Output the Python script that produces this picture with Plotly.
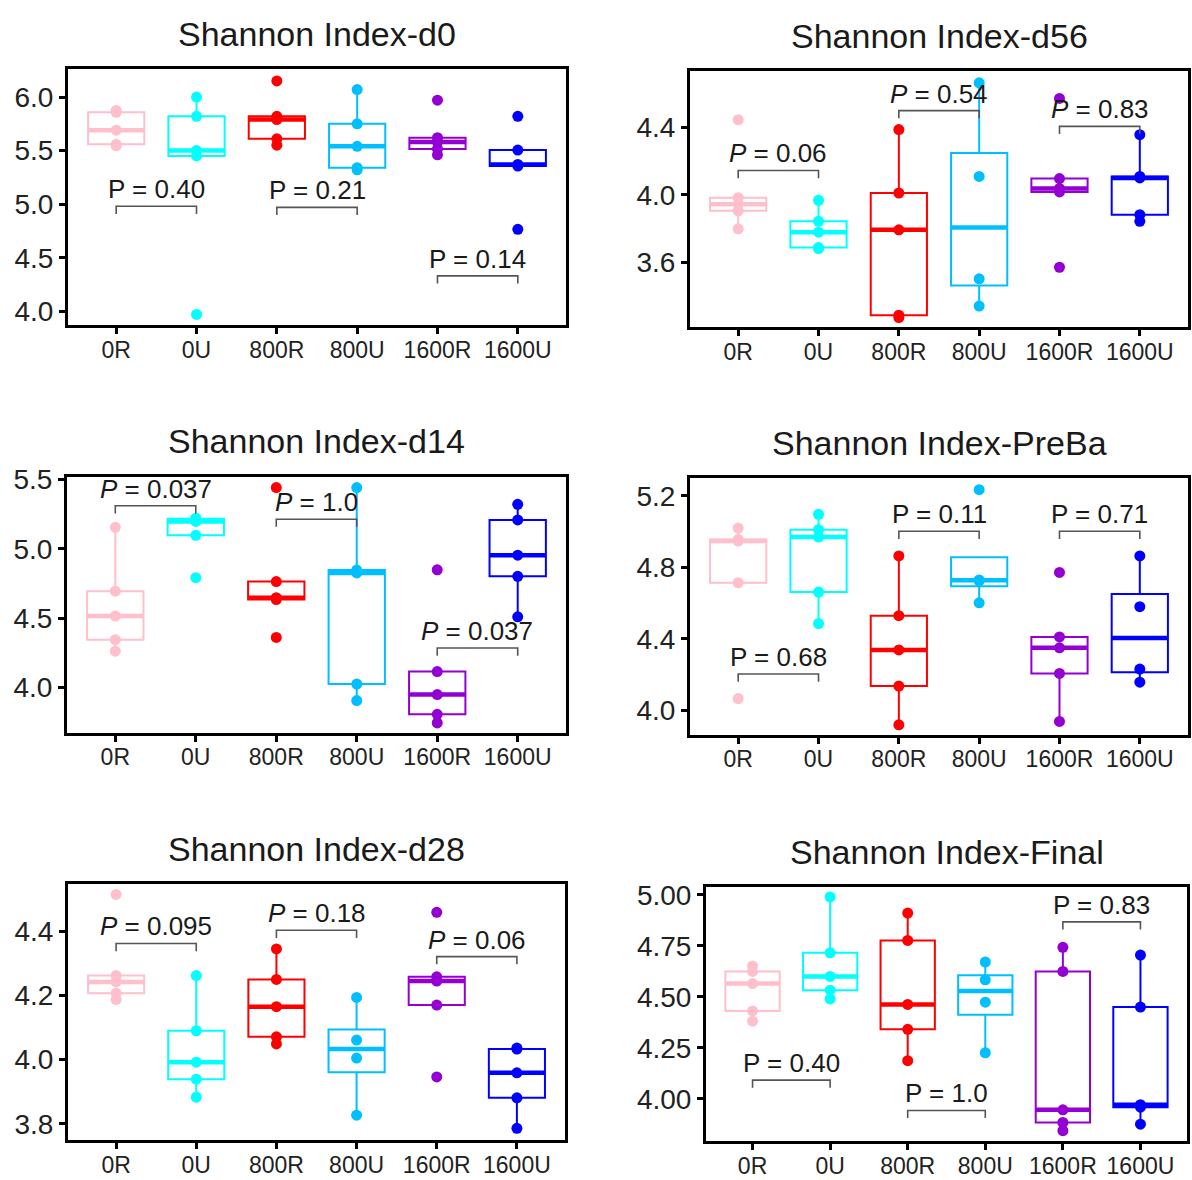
import numpy as np
import plotly.graph_objects as go

# ---------------- data ----------------
categories = ["0R", "0U", "800R", "800U", "1600R", "1600U"]
colors = ["#FFC0CB", "#00FFFF", "#FF0000", "#00BFFF", "#9400D3", "#0000FF"]

titles = ["Shannon Index-d0", "Shannon Index-d56", "Shannon Index-d14",
          "Shannon Index-PreBa", "Shannon Index-d28", "Shannon Index-Final"]

d0_vals = [
    [5.545, 5.558, 5.69, 5.857, 5.875],
    [3.97, 5.45, 5.50, 5.82, 6.00],
    [5.55, 5.61, 5.79, 5.82, 6.15],
    [5.32, 5.34, 5.54, 5.75, 6.07],
    [5.46, 5.515, 5.58, 5.62, 5.97],
    [4.765, 5.355, 5.37, 5.505, 5.82],
]
d56_vals = [
    [3.80, 3.906, 3.945, 3.983, 4.443],
    [3.683, 3.689, 3.78, 3.844, 3.968],
    [3.276, 3.29, 3.794, 4.011, 4.385],
    [3.344, 3.505, 4.109, 4.661],
    [3.573, 4.017, 4.038, 4.096, 4.569],
    [3.844, 3.883, 4.10, 4.109, 4.355],
]
d14_vals = [
    [4.261, 4.344, 4.514, 4.694, 5.154],
    [4.791, 5.097, 5.197, 5.216, 5.22],
    [4.36, 4.633, 4.647, 4.763, 5.441],
    [3.905, 4.024, 4.825, 4.846, 5.441],
    [3.744, 3.806, 3.948, 4.114, 4.848],
    [4.509, 4.801, 4.953, 5.208, 5.32],
]
preba_vals = [
    [4.066, 4.714, 4.947, 4.956, 5.02],
    [4.486, 4.662, 4.97, 5.011, 5.097],
    [3.919, 4.136, 4.338, 4.53, 4.864],
    [4.602, 4.725, 4.730, 5.235],
    [3.938, 4.207, 4.35, 4.411, 4.772],
    [4.158, 4.231, 4.58, 4.864],
]
d28_vals = [
    [4.187, 4.207, 4.242, 4.262, 4.515],
    [3.883, 3.939, 3.992, 4.09, 4.262],
    [4.049, 4.071, 4.165, 4.25, 4.345],
    [3.827, 4.005, 4.061, 4.194],
    [3.946, 4.17, 4.245, 4.258, 4.459],
    [3.786, 3.881, 3.959, 4.033, 4.036],
]
final_vals = [
    [4.381, 4.431, 4.565, 4.625, 4.652],
    [4.49, 4.533, 4.60, 4.716, 4.99],
    [4.187, 4.341, 4.463, 4.777, 4.911],
    [4.226, 4.474, 4.584, 4.671],
    [3.844, 3.884, 3.946, 4.625, 4.743],
    [3.876, 3.959, 3.971, 4.45, 4.705],
]

d0_p = ["P = 0.40", "P = 0.21", "P = 0.14"]
d56_p = ["<i>P</i> = 0.06", "<i>P</i> = 0.54", "<i>P</i> = 0.83"]
d14_p = ["<i>P</i> = 0.037", "<i>P</i> = 1.0", "<i>P</i> = 0.037"]
preba_p = ["P = 0.68", "P = 0.11", "P = 0.71"]
d28_p = ["<i>P</i> = 0.095", "<i>P</i> = 0.18", "<i>P</i> = 0.06"]
final_p = ["P = 0.40", "P = 1.0", "P = 0.83"]

d0_py = [4.98, 4.97, 4.33]
d56_py = [4.144, 4.497, 4.404]
d14_py = [5.31, 5.213, 4.284]
preba_py = [4.204, 5.002, 5.002]
d28_py = [4.362, 4.403, 4.321]
final_py = [4.092, 3.943, 4.868]

d0_ticks = [4.0, 4.5, 5.0, 5.5, 6.0]
d56_ticks = [3.6, 4.0, 4.4]
d14_ticks = [4.0, 4.5, 5.0, 5.5]
preba_ticks = [4.0, 4.4, 4.8, 5.2]
d28_ticks = [3.8, 4.0, 4.2, 4.4]
final_ticks = [4.00, 4.25, 4.50, 4.75, 5.00]

# ---------------- layout config ----------------
W, H = 1192, 1180
FONT = "Liberation Sans, Arial, sans-serif"

panels = [
    dict(vals=d0_vals, p=d0_p, py=d0_py, ticks=d0_ticks, fmt=".1f",
         yr=[3.872, 6.259], box=(68, 566, 57, 316), ty=21),
    dict(vals=d56_vals, p=d56_p, py=d56_py, ticks=d56_ticks, fmt=".1f",
         yr=[3.218, 4.729], box=(690, 1188, 59, 318.5), ty=23),
    dict(vals=d14_vals, p=d14_p, py=d14_py, ticks=d14_ticks, fmt=".1f",
         yr=[3.673, 5.517], box=(67, 566, 470, 729), ty=434),
    dict(vals=preba_vals, p=preba_p, py=preba_py, ticks=preba_ticks, fmt=".1f",
         yr=[3.864, 5.30], box=(690, 1188, 471, 731), ty=436),
    dict(vals=d28_vals, p=d28_p, py=d28_py, ticks=d28_ticks, fmt=".1f",
         yr=[3.748, 4.548], box=(68, 565, 882, 1142), ty=847),
    dict(vals=final_vals, p=final_p, py=final_py, ticks=final_ticks, fmt=".2f",
         yr=[3.791, 5.04], box=(706, 1187, 885, 1143), ty=850),
]

fig = go.Figure()
annotations = []
layout_axes = {}
BOXW = 0.7

for k, pn in enumerate(panels):
    xa = "x" if k == 0 else f"x{k + 1}"
    ya = "y" if k == 0 else f"y{k + 1}"
    xkey = "xaxis" if k == 0 else f"xaxis{k + 1}"
    ykey = "yaxis" if k == 0 else f"yaxis{k + 1}"
    yr = pn["yr"]

    # boxes
    meds = []
    for i, vals in enumerate(pn["vals"]):
        v = np.array(vals)
        q1, med, q3 = np.percentile(v, [25, 50, 75])
        iqr = q3 - q1
        lo = v[v >= q1 - 1.5 * iqr].min()
        hi = v[v <= q3 + 1.5 * iqr].max()
        meds.append(med)
        fig.add_trace(go.Box(
            x=[i + 1], q1=[q1], median=[med], q3=[q3],
            lowerfence=[min(lo, q1)], upperfence=[max(hi, q3)],
            width=BOXW, whiskerwidth=0, fillcolor="white",
            line=dict(color=colors[i], width=2), boxpoints=False,
            xaxis=xa, yaxis=ya, showlegend=False, hoverinfo="skip"))
    # thick median lines
    for i, med in enumerate(meds):
        fig.add_trace(go.Scatter(
            x=[i + 1 - BOXW / 2, i + 1 + BOXW / 2], y=[med, med], mode="lines",
            line=dict(color=colors[i], width=4.5), xaxis=xa, yaxis=ya,
            showlegend=False, hoverinfo="skip"))
    # points
    for i, vals in enumerate(pn["vals"]):
        fig.add_trace(go.Scatter(
            x=[i + 1] * len(vals), y=vals, mode="markers",
            marker=dict(color=colors[i], size=11, line=dict(width=0)),
            xaxis=xa, yaxis=ya, showlegend=False, hoverinfo="skip"))
    # p-value brackets
    tip = 0.03 * (yr[1] - yr[0])
    for j, (lab, py) in enumerate(zip(pn["p"], pn["py"])):
        a, b = 2 * j + 1, 2 * j + 2
        fig.add_trace(go.Scatter(
            x=[a, a, b, b], y=[py - tip, py, py, py - tip], mode="lines",
            line=dict(color="#555555", width=1.6), xaxis=xa, yaxis=ya,
            showlegend=False, hoverinfo="skip"))
        annotations.append(dict(
            x=(a + b) / 2, y=py, xref=xa, yref=ya, text=lab, showarrow=False,
            yanchor="bottom", xanchor="center", yshift=0,
            font=dict(family=FONT, size=26, color="#1a1a1a")))

    l, r, t, btm = pn["box"]
    layout_axes[xkey] = dict(
        domain=[l / W, r / W], range=[0.4, 6.6], anchor=ya,
        tickvals=list(range(1, 7)), ticktext=categories,
        showline=True, mirror=True, linecolor="black", linewidth=3,
        ticks="outside", ticklen=6, tickwidth=3, tickcolor="black",
        ticklabelstandoff=-4,
        showgrid=False, zeroline=False,
        tickfont=dict(family=FONT, size=23, color="#222222"))
    layout_axes[ykey] = dict(
        domain=[1 - btm / H, 1 - t / H], range=yr, anchor=xa,
        tickvals=pn["ticks"], tickformat=pn["fmt"],
        showline=True, mirror=True, linecolor="black", linewidth=3,
        ticks="outside", ticklen=6, tickwidth=3, tickcolor="black",
        showgrid=False, zeroline=False,
        tickfont=dict(family=FONT, size=28, color="#222222"))
    annotations.append(dict(
        x=(l + r) / 2 / W, y=1 - pn["ty"] / H, xref="paper", yref="paper",
        text=titles[k], showarrow=False, xanchor="center", yanchor="middle",
        font=dict(family=FONT, size=34, color="#1a1a1a")))

fig.update_layout(
    width=W, height=H, autosize=False,
    margin=dict(l=0, r=0, t=0, b=0),
    paper_bgcolor="white", plot_bgcolor="white",
    showlegend=False, annotations=annotations,
    font=dict(family=FONT), boxmode="overlay",
    **layout_axes)

fig.write_html(
    "out.html",
    config={"displayModeBar": False},
    post_script="document.body.style.margin='0';document.body.style.overflow='hidden';",
)
